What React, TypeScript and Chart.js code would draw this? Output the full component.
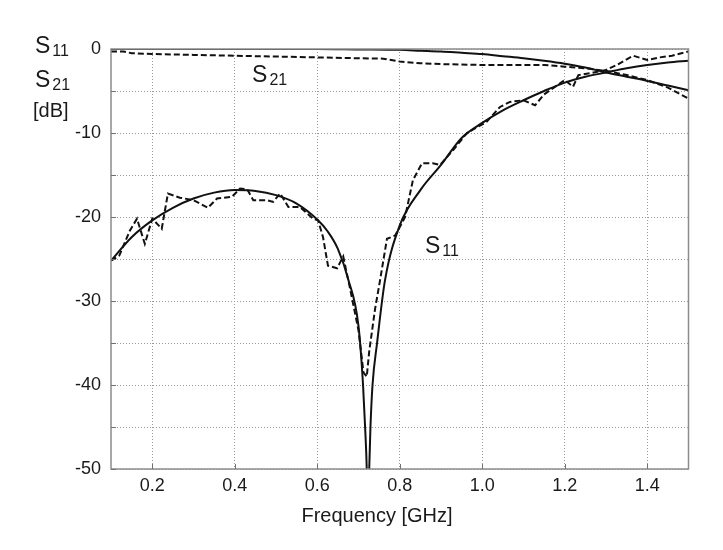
import { useEffect, useRef } from 'react';
import { Chart, registerables } from 'chart.js';

Chart.register(...registerables);

const FONT = '"Liberation Sans", Arial, sans-serif';
const INK = '#1a1a1a';

// Frequency axis ticks (GHz) and dB axis ticks
const xTicks = [0.2, 0.4, 0.6, 0.8, 1.0, 1.2, 1.4];
const yTicks = [-50, -45, -40, -35, -30, -25, -20, -15, -10, -5, 0];

// S11, simulated (solid)
const s11SimFreq = [
  0.1, 0.15, 0.2, 0.25, 0.3, 0.35, 0.4, 0.45, 0.5, 0.55, 0.6, 0.625, 0.65, 0.675, 0.7,
  0.711, 0.716, 0.72, 0.723, 0.726, 0.729, 0.734, 0.745, 0.764, 0.8, 0.85, 0.9, 0.95,
  1.0, 1.05, 1.1, 1.15, 1.2, 1.25, 1.3, 1.35, 1.4, 1.45, 1.5,
];
const s11SimDb = [
  -25.2, -22.4, -20.4, -18.9, -17.8, -17.1, -16.8, -16.9, -17.4, -18.4, -20.3, -21.7, -23.8, -27.4, -33.0,
  -40, -45, -50, -58, -50, -45, -40, -35, -27.6, -21.0, -16.8, -13.8, -10.6,
  -8.8, -7.3, -6.1, -5.0, -4.0, -3.3, -2.8, -2.3, -1.9, -1.6, -1.4,
];

// S11, measured (dashed)
const s11MeasFreq = [
  0.1, 0.12, 0.146, 0.163, 0.182, 0.2, 0.223, 0.238, 0.267, 0.3, 0.335, 0.357, 0.393, 0.413,
  0.43, 0.445, 0.478, 0.493, 0.51, 0.53, 0.558, 0.59, 0.602, 0.614, 0.626, 0.648, 0.663, 0.679,
  0.7, 0.712, 0.72, 0.726, 0.74, 0.752, 0.769, 0.789, 0.813, 0.825, 0.832, 0.854, 0.88, 0.898,
  0.93, 0.963, 1.01, 1.043, 1.067, 1.1, 1.128, 1.15, 1.2, 1.22, 1.233, 1.26, 1.3, 1.326, 1.366,
  1.4, 1.43, 1.46, 1.5,
];
const s11MeasDb = [
  -25.2, -24.6, -21.6, -20.2, -23.2, -20.2, -21.4, -17.2, -17.7, -18.0, -18.9, -17.8, -17.6, -16.6,
  -16.7, -18.0, -18.0, -18.2, -17.2, -18.8, -18.8, -20.2, -20.4, -22.4, -25.8, -26.1, -24.7, -28.4,
  -33.5, -38.5, -39.0, -36.0, -31.0, -27.6, -22.6, -22.2, -20.0, -17.2, -15.6, -13.6, -13.6, -13.8,
  -12.0, -10.0, -8.7, -6.9, -6.3, -6.1, -6.7, -5.4, -3.7, -4.5, -3.1, -2.9, -2.5, -1.9, -0.8,
  -1.3, -1.0, -0.8, -0.3,
];

// S21, simulated (solid)
const s21SimFreq = [
  0.1, 0.2, 0.3, 0.4, 0.5, 0.6, 0.7, 0.8, 0.85, 0.9, 0.95, 1.0, 1.05, 1.1, 1.15, 1.2, 1.25,
  1.3, 1.35, 1.4, 1.45, 1.5,
];
const s21SimDb = [
  0, 0, 0, 0, 0, 0, -0.05, -0.1, -0.2, -0.3, -0.45, -0.6, -0.85, -1.1, -1.4, -1.75, -2.2,
  -2.8, -3.3, -3.8, -4.35, -4.9,
];

// S21, measured (dashed)
const s21MeasFreq = [
  0.1, 0.13, 0.15, 0.2, 0.3, 0.4, 0.5, 0.6, 0.7, 0.76, 0.8, 0.85, 0.9, 1.0, 1.1, 1.15, 1.2,
  1.25, 1.3, 1.35, 1.4, 1.45, 1.5,
];
const s21MeasDb = [
  -0.3, -0.3, -0.5, -0.6, -0.7, -0.8, -0.9, -1.0, -1.1, -1.15, -1.5, -1.7, -1.8, -1.9, -1.9, -1.9, -2.1,
  -2.3, -2.6, -3.1, -3.7, -4.6, -5.9,
];

// In-plot curve labels: [frequency, dB] of the text baseline start
const s21LabelAt = [0.442, -3.94];
const s11LabelAt = [0.861, -24.3];

const toPoints = (xs: number[], ys: number[]) => xs.map((x, i) => ({ x, y: ys[i] }));

const drawSubscripted = (
  ctx: CanvasRenderingContext2D,
  main: string,
  sub: string,
  x: number,
  y: number,
) => {
  ctx.font = `23px ${FONT}`;
  ctx.fillText(main, x, y);
  const w = ctx.measureText(main).width;
  ctx.font = `16px ${FONT}`;
  ctx.fillText(sub, x + w + 2, y + 3);
};

const decorations = {
  id: 'decorations',
  afterDraw(chart: any) {
    const ctx: CanvasRenderingContext2D = chart.ctx;
    const { left, right, top, bottom } = chart.chartArea;
    const xs = chart.scales.x;
    const ys = chart.scales.y;
    ctx.save();

    // Axes box
    ctx.strokeStyle = '#8c8c8c';
    ctx.lineWidth = 1.5;
    ctx.strokeRect(left, top, right - left, bottom - top);

    // Inward tick marks
    ctx.lineWidth = 1;
    ctx.strokeStyle = '#707070';
    ctx.beginPath();
    xTicks.forEach((v) => {
      const px = Math.round(xs.getPixelForValue(v)) + 0.5;
      ctx.moveTo(px, bottom);
      ctx.lineTo(px, bottom - 5);
    });
    yTicks.forEach((v) => {
      const py = Math.round(ys.getPixelForValue(v)) + 0.5;
      ctx.moveTo(left, py);
      ctx.lineTo(left + 5, py);
    });
    ctx.stroke();

    // Y axis caption
    ctx.fillStyle = INK;
    ctx.textAlign = 'left';
    ctx.textBaseline = 'alphabetic';
    drawSubscripted(ctx, 'S', '11', 35, 53);
    drawSubscripted(ctx, 'S', '21', 35, 87);
    ctx.font = `20px ${FONT}`;
    ctx.fillText('[dB]', 33, 117);

    // Curve labels
    drawSubscripted(ctx, 'S', '21', xs.getPixelForValue(s21LabelAt[0]), ys.getPixelForValue(s21LabelAt[1]));
    drawSubscripted(ctx, 'S', '11', xs.getPixelForValue(s11LabelAt[0]), ys.getPixelForValue(s11LabelAt[1]));

    // X axis title
    ctx.font = `20px ${FONT}`;
    ctx.textAlign = 'center';
    ctx.fillText('Frequency [GHz]', 377, 522);

    ctx.restore();
  },
};

export default function App() {
  const canvasRef = useRef<HTMLCanvasElement | null>(null);

  useEffect(() => {
    if (!canvasRef.current) return;
    const solid = { borderColor: '#111', borderWidth: 2, pointRadius: 0, fill: false };
    const dashed = { ...solid, borderDash: [6, 3] };

    const chart = new Chart(canvasRef.current, {
      type: 'line',
      data: {
        datasets: [
          { label: 'S11 sim', data: toPoints(s11SimFreq, s11SimDb), ...solid, cubicInterpolationMode: 'monotone' },
          { label: 'S11 meas', data: toPoints(s11MeasFreq, s11MeasDb), ...dashed, tension: 0 },
          { label: 'S21 sim', data: toPoints(s21SimFreq, s21SimDb), ...solid, cubicInterpolationMode: 'monotone' },
          { label: 'S21 meas', data: toPoints(s21MeasFreq, s21MeasDb), ...dashed, tension: 0 },
        ] as any,
      },
      options: {
        animation: false,
        responsive: false,
        devicePixelRatio: 1,
        layout: { padding: { top: 49, right: 34.5, left: 0, bottom: 0 } },
        plugins: { legend: { display: false }, tooltip: { enabled: false } },
        scales: {
          x: {
            type: 'linear',
            min: 0.1,
            max: 1.5,
            afterBuildTicks: (s: any) => {
              s.ticks = xTicks.map((value) => ({ value }));
            },
            afterFit: (s: any) => {
              s.height = 81;
            },
            ticks: {
              callback: (v: any) => Number(v).toFixed(1),
              font: { size: 18, family: FONT },
              color: INK,
              padding: 6,
              maxRotation: 0,
              autoSkip: false,
            },
            grid: { color: '#9a9a9a', lineWidth: 1, drawTicks: false },
            border: { display: false, dash: [1, 2] },
          },
          y: {
            type: 'linear',
            min: -50,
            max: 0,
            afterBuildTicks: (s: any) => {
              s.ticks = yTicks.map((value) => ({ value }));
            },
            afterFit: (s: any) => {
              s.width = 111;
            },
            ticks: {
              callback: (v: any) => (Number(v) % 10 === 0 ? String(v) : ''),
              font: { size: 18, family: FONT },
              color: INK,
              padding: 10,
              autoSkip: false,
            },
            grid: { color: '#9a9a9a', lineWidth: 1, drawTicks: false },
            border: { display: false, dash: [1, 2] },
          },
        },
      },
      plugins: [decorations],
    });
    return () => chart.destroy();
  }, []);

  return (
    <div style={{ position: 'fixed', left: 0, top: 0, width: 723, height: 550, background: '#fff' }}>
      <canvas ref={canvasRef} width={723} height={550} />
    </div>
  );
}
